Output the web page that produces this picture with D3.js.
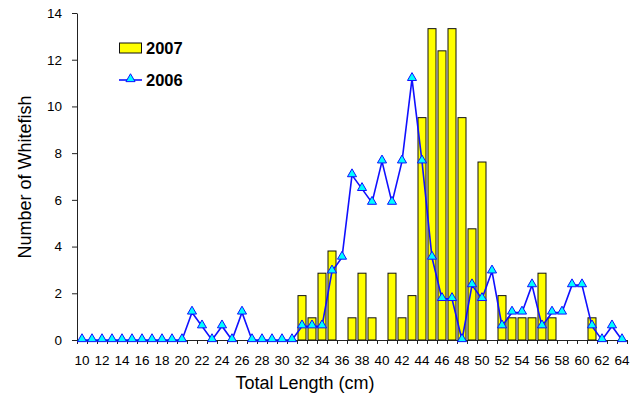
<!DOCTYPE html>
<html>
<head>
<meta charset="utf-8">
<script src="https://cdn.jsdelivr.net/npm/d3@7"></script>
<style>
  body { margin: 0; background: #fff; }
  text { font-family: "Liberation Sans", Arial, sans-serif; }
</style>
</head>
<body>
<div id="chart"></div>
<script>
'use strict';

// total length classes (cm)
var lengths = [10, 11, 12, 13, 14, 15, 16, 17, 18, 19, 20, 21, 22, 23, 24, 25, 26, 27, 28, 29,
    30, 31, 32, 33, 34, 35, 36, 37, 38, 39, 40, 41, 42, 43, 44, 45, 46, 47, 48, 49,
    50, 51, 52, 53, 54, 55, 56, 57, 58, 59, 60, 61, 62, 63, 64];

// 2007 (bars)
var y2007 = [0, 0, 0, 0, 0, 0, 0, 0, 0, 0, 0, 0, 0, 0, 0, 0, 0, 0, 0, 0,
    0, 0, 1.90, 0.95, 2.86, 3.81, 0, 0.95, 2.86, 0.95, 0, 2.86, 0.95, 1.90, 9.52, 13.33, 12.38, 13.33, 9.52, 4.76,
    7.62, 0, 1.90, 0.95, 0.95, 0.95, 2.86, 0.95, 0, 0, 0, 0.95, 0, 0, 0];

// 2006 (line)
var y2006 = [0, 0, 0, 0, 0, 0, 0, 0, 0, 0, 0, 1.18, 0.59, 0, 0.59, 0, 1.18, 0, 0, 0,
    0, 0, 0.59, 0.59, 0.59, 2.94, 3.53, 7.06, 6.47, 5.88, 7.65, 5.88, 7.65, 11.18, 7.65, 3.53, 1.76, 1.76, 0, 2.35,
    1.76, 2.94, 0.59, 1.18, 1.18, 2.35, 0.59, 1.18, 1.18, 2.35, 2.35, 0.59, 0, 0.59, 0];

var yTicks = [0, 2, 4, 6, 8, 10, 12, 14];
var xLabels = [10, 12, 14, 16, 18, 20, 22, 24, 26, 28, 30, 32, 34, 36, 38, 40, 42, 44, 46, 48,
    50, 52, 54, 56, 58, 60, 62, 64];

var W = 634, H = 396;
var margin = {top: 13, right: 7, bottom: 56, left: 77};

var svg = d3.select('#chart').append('svg').attr('width', W).attr('height', H);

var x = d3.scaleBand().domain(lengths)
    .range([margin.left, W - margin.right])
    .paddingInner(0.2).paddingOuter(0.1);
var xEdge = d3.scaleLinear().domain([0, lengths.length]).range([margin.left, W - margin.right]);
var y = d3.scaleLinear().domain([0, 14]).range([H - margin.bottom, margin.top]);

var bars = lengths.map(function(l, i) { return {len: l, v: y2007[i]}; })
    .filter(function(d) { return d.v > 0; });
var pts = lengths.map(function(l, i) { return {len: l, v: y2006[i]}; });

var cx = function(d) { return x(d.len) + x.bandwidth() / 2; };

// ── Bars ──
svg.append('g').selectAll('rect')
    .data(bars).enter()
    .append('rect')
    .attr('x', function(d) { return x(d.len); })
    .attr('y', function(d) { return y(d.v); })
    .attr('width', x.bandwidth())
    .attr('height', function(d) { return y(0) - y(d.v); })
    .style('fill', '#ffff00')
    .style('stroke', '#111')
    .style('stroke-width', 1);

// ── Axes ──
var yAxis = svg.append('g')
    .attr('transform', 'translate(' + margin.left + ',0)')
    .call(d3.axisLeft(y).tickValues(yTicks).tickSize(5).tickPadding(10).tickSizeOuter(0));
yAxis.selectAll('text').style('font-size', '13.5px').attr('fill', '#000');

var xTicks = svg.append('g')
    .attr('transform', 'translate(0,' + y(0) + ')')
    .call(d3.axisBottom(xEdge).ticks(lengths.length).tickFormat('').tickSize(4).tickSizeOuter(0));

var xAxis = svg.append('g')
    .attr('transform', 'translate(0,' + y(0) + ')')
    .call(d3.axisBottom(x).tickValues(xLabels).tickSize(0).tickPadding(15));
xAxis.select('.domain').remove();
xAxis.selectAll('text').style('font-size', '13.5px').attr('fill', '#000');

svg.selectAll('.domain, .tick line').attr('stroke', '#222');

// ── Line 2006 ──
var line = d3.line().x(cx).y(function(d) { return y(d.v); });
svg.append('path').datum(pts)
    .attr('d', line)
    .style('fill', 'none')
    .style('stroke', '#1010ff')
    .style('stroke-width', 1.6);

var tri = d3.symbol().type(d3.symbolTriangle).size(36);
svg.append('g').selectAll('path')
    .data(pts).enter()
    .append('path')
    .attr('d', tri)
    .attr('transform', function(d) { return 'translate(' + cx(d) + ',' + (y(d.v) - 1) + ')'; })
    .style('fill', '#00ffff')
    .style('stroke', '#1010ff')
    .style('stroke-width', 1);

// ── Axis titles ──
svg.append('text')
    .attr('x', (margin.left + W - margin.right) / 2 - 47)
    .attr('y', 389)
    .attr('text-anchor', 'middle')
    .style('font-size', '18px')
    .text('Total Length (cm)');

svg.append('text')
    .attr('transform', 'translate(31,177) rotate(-90)')
    .attr('text-anchor', 'middle')
    .style('font-size', '18px')
    .text('Number of Whitefish');

// ── Legend ──
var lg = svg.append('g');
lg.append('rect')
    .attr('x', 119.5).attr('y', 43).attr('width', 22).attr('height', 10)
    .style('fill', '#ffff00').style('stroke', '#111');
lg.append('text').attr('x', 146).attr('y', 54)
    .style('font-size', '16.5px').style('font-weight', 'bold').text('2007');
lg.append('line')
    .attr('x1', 119).attr('x2', 142).attr('y1', 80).attr('y2', 80)
    .style('stroke', '#1010ff').style('stroke-width', 1.6);
lg.append('path').attr('d', tri)
    .attr('transform', 'translate(130.5,79)')
    .style('fill', '#00ffff').style('stroke', '#1010ff');
lg.append('text').attr('x', 146).attr('y', 86)
    .style('font-size', '16.5px').style('font-weight', 'bold').text('2006');
</script>
</body>
</html>
